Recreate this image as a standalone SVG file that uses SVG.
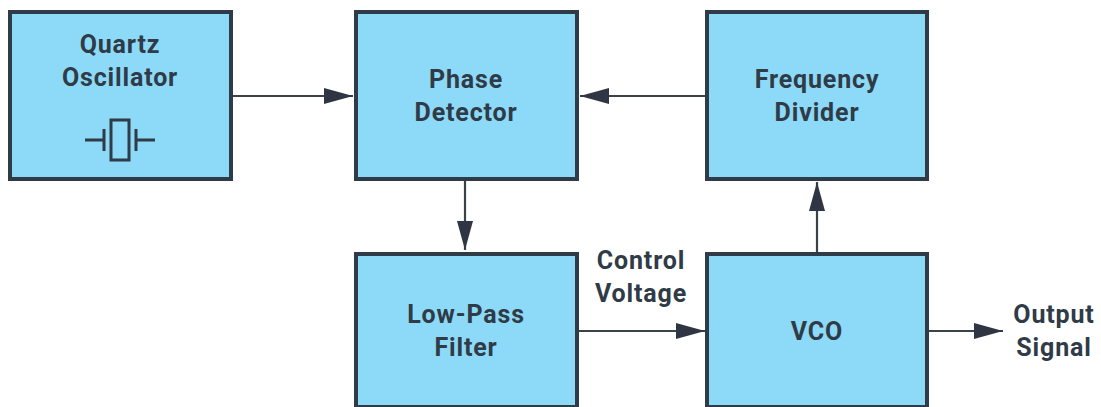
<svg xmlns="http://www.w3.org/2000/svg" width="1101" height="407" viewBox="0 0 1101 407">
<style>
.box{fill:#8cd9f8;stroke:#2f3b46;stroke-width:4}
.t{font-family:Roboto,"Liberation Sans",sans-serif;font-weight:700;font-size:25px;fill:#2f3b46;text-anchor:middle;letter-spacing:.85px}
.c{fill:none;stroke:#3a424a;stroke-width:2.2}
.s{fill:none;stroke:#2f3b46;stroke-width:3}
</style>
<defs><marker id="a" markerUnits="userSpaceOnUse" markerWidth="30" markerHeight="18" refX="29" refY="8" orient="auto"><path d="M0 0L29 8L0 16Z" fill="#2f3542"/></marker></defs>
<rect width="1101" height="407" fill="#fff"/>
<g id="connectors">
<path class="c" marker-end="url(#a)" d="M232 96H353"/>
<path class="c" marker-end="url(#a)" d="M706 96H580"/>
<path class="c" marker-end="url(#a)" d="M465 180V250"/>
<path class="c" marker-end="url(#a)" d="M578 331H705"/>
<path class="c" marker-end="url(#a)" d="M817 253V182"/>
<path class="c" marker-end="url(#a)" d="M928 331H1003"/>
</g>
<g id="quartz"><rect class="box" x="10" y="12" width="221" height="167"/>
<text class="t" x="120" y="53">Quartz</text><text class="t" x="120" y="86">Oscillator</text>
<rect class="s" x="111" y="120" width="18" height="40"/><path class="s" d="M85 140H104M104 129V151M155 140H136M136 129V151"/></g>
<g id="phase"><rect class="box" x="356" y="12" width="221" height="167"/>
<text class="t" x="466" y="88">Phase</text><text class="t" x="466" y="121">Detector</text></g>
<g id="divider"><rect class="box" x="707" y="12" width="220" height="167"/>
<text class="t" x="817" y="88">Frequency</text><text class="t" x="817" y="121">Divider</text></g>
<g id="filter"><rect class="box" x="356" y="254" width="221" height="153"/>
<text class="t" x="466" y="323">Low-Pass</text><text class="t" x="466" y="356">Filter</text></g>
<g id="vco"><rect class="box" x="707" y="254" width="220" height="153"/>
<text class="t" x="817" y="340">VCO</text></g>
<g id="labels"><text class="t" x="641" y="269">Control</text><text class="t" x="641" y="302">Voltage</text>
<text class="t" x="1054" y="323">Output</text><text class="t" x="1054" y="356">Signal</text></g>
</svg>
